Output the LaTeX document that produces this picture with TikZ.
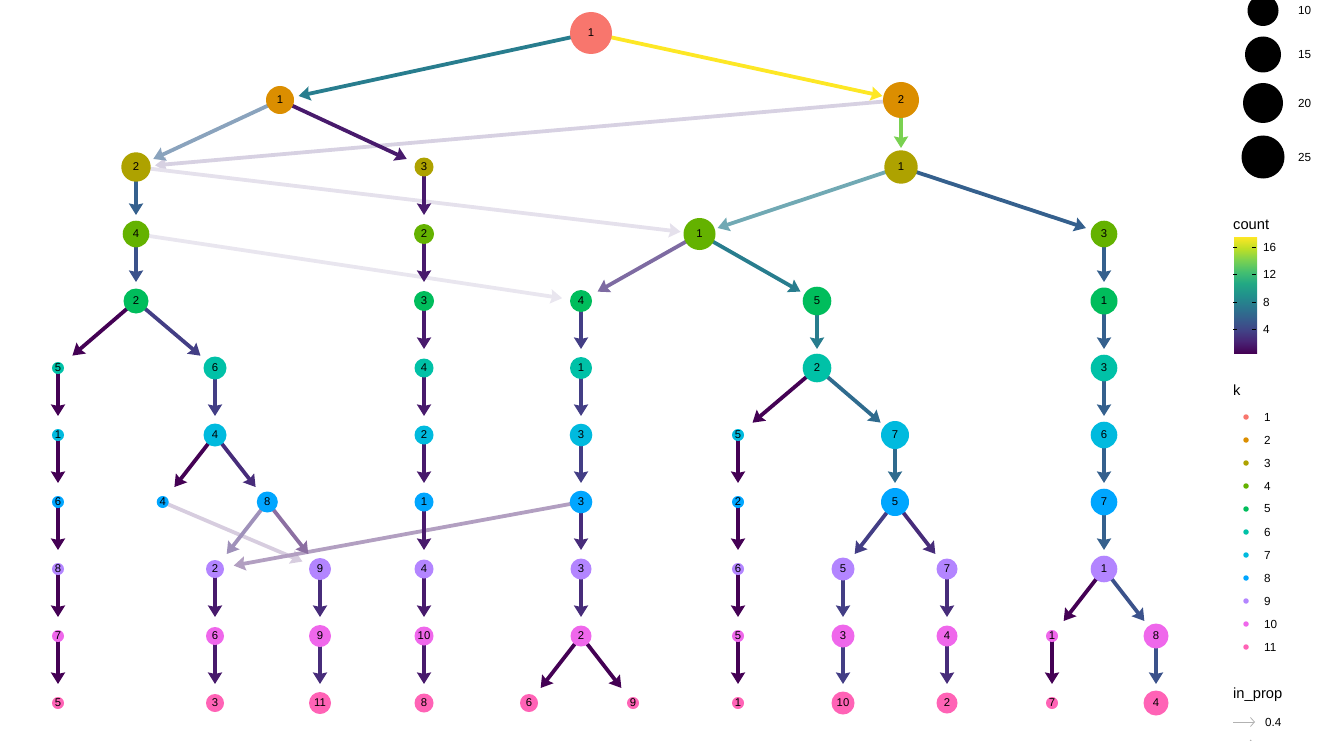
\documentclass[tikz,border=0pt]{standalone}
\usepackage{fontspec}
\setmainfont{Liberation Sans}
\usetikzlibrary{arrows.meta}
\usetikzlibrary{positioning}

% cluster colours by resolution k
\definecolor{hue1}{HTML}{F8766D}
\definecolor{hue2}{HTML}{DB8E00}
\definecolor{hue3}{HTML}{AEA200}
\definecolor{hue4}{HTML}{64B200}
\definecolor{hue5}{HTML}{00BD5C}
\definecolor{hue6}{HTML}{00C1A7}
\definecolor{hue7}{HTML}{00BADE}
\definecolor{hue8}{HTML}{00A6FF}
\definecolor{hue9}{HTML}{B385FF}
\definecolor{hue10}{HTML}{EF67EB}
\definecolor{hue11}{HTML}{FF63B6}
% edge colours by count
\definecolor{vir1}{HTML}{440154}
\definecolor{vir2}{HTML}{481A6C}
\definecolor{vir3}{HTML}{472C7A}
\definecolor{vir4}{HTML}{433E85}
\definecolor{vir5}{HTML}{3B528B}
\definecolor{vir6}{HTML}{35608D}
\definecolor{vir7}{HTML}{2F6B8E}
\definecolor{vir8}{HTML}{287D8E}
\definecolor{vir14}{HTML}{7AD151}
\definecolor{vir17}{HTML}{FDE725}
% colour bar stops
\definecolor{vs0}{HTML}{440154}
\definecolor{vs1}{HTML}{482475}
\definecolor{vs2}{HTML}{414487}
\definecolor{vs3}{HTML}{355F8D}
\definecolor{vs4}{HTML}{2A788E}
\definecolor{vs5}{HTML}{21918C}
\definecolor{vs6}{HTML}{22A884}
\definecolor{vs7}{HTML}{44BF70}
\definecolor{vs8}{HTML}{7AD151}
\definecolor{vs9}{HTML}{BDDF26}
\definecolor{vs10}{HTML}{FDE725}
% tikz fits the middle 50bp of a 100bp shading to the path
\pgfdeclareverticalshading{virbar}{100bp}{color(0bp)=(vs0); color(25bp)=(vs0);
  color(30bp)=(vs1); color(35bp)=(vs2); color(40bp)=(vs3); color(45bp)=(vs4);
  color(50bp)=(vs5); color(55bp)=(vs6); color(60bp)=(vs7); color(65bp)=(vs8);
  color(70bp)=(vs9); color(75bp)=(vs10); color(100bp)=(vs10)}

\pgfdeclarelayer{edges}
\pgfsetlayers{edges,main}

\tikzset{
  cl/.style={circle, inner sep=0pt, text=black, font=\fontsize{11.3}{13}\selectfont},
  rad/.style={minimum size=#1*2pt},
  lnk/.style={draw=#1, line width=3.8pt,
    -{Stealth[length=11.5pt,width=14pt,inset=1.5pt]}, shorten >=19pt},
  leg/.style={inner sep=0pt, anchor=west, font=\fontsize{11.7}{13}\selectfont},
  legtitle/.style={inner sep=0pt, anchor=west, font=\fontsize{14.7}{16}\selectfont},
}

\begin{document}
\begin{tikzpicture}[x=1pt, y=-1pt]
\useasboundingbox (0,0) rectangle (1319,741);

% k = 1
\node[cl, fill=hue1, rad=21] (k1c1) at (591,33) {1};
% k = 2
\node[cl, fill=hue2, rad=14] (k2c1) at (280,100) {1};
\node[cl, fill=hue2, rad=18] (k2c2) at (901,100) {2};
% k = 3
\node[cl, fill=hue3, rad=14.7] (k3c2) at (136,167) {2};
\node[cl, fill=hue3, rad=9.5] (k3c3) at (424,167) {3};
\node[cl, fill=hue3, rad=16.7] (k3c1) at (901,167) {1};
% k = 4
\node[cl, fill=hue4, rad=13.3] (k4c4) at (136,234) {4};
\node[cl, fill=hue4, rad=10] (k4c2) at (424,234) {2};
\node[cl, fill=hue4, rad=16] (k4c1) at (699.5,234) {1};
\node[cl, fill=hue4, rad=13.3] (k4c3) at (1104,234) {3};
% k = 5
\node[cl, fill=hue5, rad=12.5] (k5c2) at (136,301) {2};
\node[cl, fill=hue5, rad=10] (k5c3) at (424,301) {3};
\node[cl, fill=hue5, rad=11] (k5c4) at (581,301) {4};
\node[cl, fill=hue5, rad=14.3] (k5c5) at (817,301) {5};
\node[cl, fill=hue5, rad=13.5] (k5c1) at (1104,301) {1};
% k = 6
\node[cl, fill=hue6, rad=6] (k6c5) at (58,368) {5};
\node[cl, fill=hue6, rad=11.5] (k6c6) at (215,368) {6};
\node[cl, fill=hue6, rad=9.5] (k6c4) at (424,368) {4};
\node[cl, fill=hue6, rad=11] (k6c1) at (581,368) {1};
\node[cl, fill=hue6, rad=14.3] (k6c2) at (817,368) {2};
\node[cl, fill=hue6, rad=13.3] (k6c3) at (1104,368) {3};
% k = 7
\node[cl, fill=hue7, rad=6] (k7c1) at (58,435) {1};
\node[cl, fill=hue7, rad=11.5] (k7c4) at (215,435) {4};
\node[cl, fill=hue7, rad=9.5] (k7c2) at (424,435) {2};
\node[cl, fill=hue7, rad=11.3] (k7c3) at (581,435) {3};
\node[cl, fill=hue7, rad=6] (k7c5) at (738,435) {5};
\node[cl, fill=hue7, rad=14] (k7c7) at (895,435) {7};
\node[cl, fill=hue7, rad=13.3] (k7c6) at (1104,435) {6};
% k = 8
\node[cl, fill=hue8, rad=6] (k8c6) at (58,502) {6};
\node[cl, fill=hue8, rad=6] (k8c4) at (162.7,502) {4};
\node[cl, fill=hue8, rad=10.5] (k8c8) at (267.3,502) {8};
\node[cl, fill=hue8, rad=9.5] (k8c1) at (424,502) {1};
\node[cl, fill=hue8, rad=11.3] (k8c3) at (581,502) {3};
\node[cl, fill=hue8, rad=6] (k8c2) at (738,502) {2};
\node[cl, fill=hue8, rad=14] (k8c5) at (895,502) {5};
\node[cl, fill=hue8, rad=13.3] (k8c7) at (1104,502) {7};
% k = 9
\node[cl, fill=hue9, rad=6] (k9c8) at (58,569) {8};
\node[cl, fill=hue9, rad=9] (k9c2) at (215,569) {2};
\node[cl, fill=hue9, rad=11] (k9c9) at (320,569) {9};
\node[cl, fill=hue9, rad=9.5] (k9c4) at (424,569) {4};
\node[cl, fill=hue9, rad=10.5] (k9c3) at (581,569) {3};
\node[cl, fill=hue9, rad=6] (k9c6) at (738,569) {6};
\node[cl, fill=hue9, rad=11.5] (k9c5) at (843,569) {5};
\node[cl, fill=hue9, rad=10.5] (k9c7) at (947,569) {7};
\node[cl, fill=hue9, rad=13.3] (k9c1) at (1104,569) {1};
% k = 10
\node[cl, fill=hue10, rad=6] (k10c7) at (58,636) {7};
\node[cl, fill=hue10, rad=9] (k10c6) at (215,636) {6};
\node[cl, fill=hue10, rad=11] (k10c9) at (320,636) {9};
\node[cl, fill=hue10, rad=9.5] (k10c10) at (424,636) {10};
\node[cl, fill=hue10, rad=10.5] (k10c2) at (581,636) {2};
\node[cl, fill=hue10, rad=6] (k10c5) at (738,636) {5};
\node[cl, fill=hue10, rad=11.5] (k10c3) at (843,636) {3};
\node[cl, fill=hue10, rad=10.5] (k10c4) at (947,636) {4};
\node[cl, fill=hue10, rad=6] (k10c1) at (1052,636) {1};
\node[cl, fill=hue10, rad=12.5] (k10c8) at (1156,636) {8};
% k = 11
\node[cl, fill=hue11, rad=6] (k11c5) at (58,703) {5};
\node[cl, fill=hue11, rad=9] (k11c3) at (215,703) {3};
\node[cl, fill=hue11, rad=11] (k11c11) at (320,703) {11};
\node[cl, fill=hue11, rad=9.5] (k11c8) at (424,703) {8};
\node[cl, fill=hue11, rad=9] (k11c6) at (529,703) {6};
\node[cl, fill=hue11, rad=6] (k11c9) at (633,703) {9};
\node[cl, fill=hue11, rad=6] (k11c1) at (738,703) {1};
\node[cl, fill=hue11, rad=11.5] (k11c10) at (843,703) {10};
\node[cl, fill=hue11, rad=10.5] (k11c2) at (947,703) {2};
\node[cl, fill=hue11, rad=6] (k11c7) at (1052,703) {7};
\node[cl, fill=hue11, rad=12.5] (k11c4) at (1156,703) {4};

\begin{pgfonlayer}{edges}
% faint edges first
\draw[lnk=vir3!22] (k2c2.center) -- (k3c2.center);
\draw[lnk=vir3!14] (k3c2.center) -- (k4c1.center);
\draw[lnk=vir3!12] (k4c4.center) -- (k5c4.center);
\draw[lnk=vir2!22] (k8c4.center) -- (k9c9.center);
\draw[lnk=vir2!42] (k8c3.center) -- (k9c2.center);
\draw[lnk=vir3!52] (k8c8.center) -- (k9c2.center);
\draw[lnk=vir2!63] (k8c8.center) -- (k9c9.center);
\draw[lnk=vir6!58] (k2c1.center) -- (k3c2.center);
\draw[lnk=vir8!66] (k3c1.center) -- (k4c1.center);
\draw[lnk=vir3!70] (k4c1.center) -- (k5c4.center);
% k1 -> k2 -> k3
\draw[lnk=vir8] (k1c1.center) -- (k2c1.center);
\draw[lnk=vir17] (k1c1.center) -- (k2c2.center);
\draw[lnk=vir2] (k2c1.center) -- (k3c3.center);
\draw[lnk=vir14] (k2c2.center) -- (k3c1.center);
% k3 -> k4 -> k5
\draw[lnk=vir6] (k3c2.center) -- (k4c4.center);
\draw[lnk=vir2] (k3c3.center) -- (k4c2.center);
\draw[lnk=vir6] (k3c1.center) -- (k4c3.center);
\draw[lnk=vir5] (k4c4.center) -- (k5c2.center);
\draw[lnk=vir2] (k4c2.center) -- (k5c3.center);
\draw[lnk=vir8] (k4c1.center) -- (k5c5.center);
\draw[lnk=vir6] (k4c3.center) -- (k5c1.center);
% k5 -> k6
\draw[lnk=vir1] (k5c2.center) -- (k6c5.center);
\draw[lnk=vir4] (k5c2.center) -- (k6c6.center);
\draw[lnk=vir2] (k5c3.center) -- (k6c4.center);
\draw[lnk=vir4] (k5c4.center) -- (k6c1.center);
\draw[lnk=vir8] (k5c5.center) -- (k6c2.center);
\draw[lnk=vir6] (k5c1.center) -- (k6c3.center);
% k6 -> k7
\draw[lnk=vir1] (k6c5.center) -- (k7c1.center);
\draw[lnk=vir4] (k6c6.center) -- (k7c4.center);
\draw[lnk=vir2] (k6c4.center) -- (k7c2.center);
\draw[lnk=vir4] (k6c1.center) -- (k7c3.center);
\draw[lnk=vir1] (k6c2.center) -- (k7c5.center);
\draw[lnk=vir7] (k6c2.center) -- (k7c7.center);
\draw[lnk=vir6] (k6c3.center) -- (k7c6.center);
% k7 -> k8
\draw[lnk=vir1] (k7c1.center) -- (k8c6.center);
\draw[lnk=vir1] (k7c4.center) -- (k8c4.center);
\draw[lnk=vir3] (k7c4.center) -- (k8c8.center);
\draw[lnk=vir2] (k7c2.center) -- (k8c1.center);
\draw[lnk=vir4] (k7c3.center) -- (k8c3.center);
\draw[lnk=vir1] (k7c5.center) -- (k8c2.center);
\draw[lnk=vir7] (k7c7.center) -- (k8c5.center);
\draw[lnk=vir6] (k7c6.center) -- (k8c7.center);
% k8 -> k9
\draw[lnk=vir1] (k8c6.center) -- (k9c8.center);
\draw[lnk=vir2] (k8c1.center) -- (k9c4.center);
\draw[lnk=vir3] (k8c3.center) -- (k9c3.center);
\draw[lnk=vir1] (k8c2.center) -- (k9c6.center);
\draw[lnk=vir4] (k8c5.center) -- (k9c5.center);
\draw[lnk=vir3] (k8c5.center) -- (k9c7.center);
\draw[lnk=vir6] (k8c7.center) -- (k9c1.center);
% k9 -> k10
\draw[lnk=vir1] (k9c8.center) -- (k10c7.center);
\draw[lnk=vir2] (k9c2.center) -- (k10c6.center);
\draw[lnk=vir3] (k9c9.center) -- (k10c9.center);
\draw[lnk=vir2] (k9c4.center) -- (k10c10.center);
\draw[lnk=vir3] (k9c3.center) -- (k10c2.center);
\draw[lnk=vir1] (k9c6.center) -- (k10c5.center);
\draw[lnk=vir4] (k9c5.center) -- (k10c3.center);
\draw[lnk=vir3] (k9c7.center) -- (k10c4.center);
\draw[lnk=vir1] (k9c1.center) -- (k10c1.center);
\draw[lnk=vir5] (k9c1.center) -- (k10c8.center);
% k10 -> k11
\draw[lnk=vir1] (k10c7.center) -- (k11c5.center);
\draw[lnk=vir2] (k10c6.center) -- (k11c3.center);
\draw[lnk=vir3] (k10c9.center) -- (k11c11.center);
\draw[lnk=vir2] (k10c10.center) -- (k11c8.center);
\draw[lnk=vir1] (k10c2.center) -- (k11c6.center);
\draw[lnk=vir1] (k10c2.center) -- (k11c9.center);
\draw[lnk=vir1] (k10c5.center) -- (k11c1.center);
\draw[lnk=vir4] (k10c3.center) -- (k11c10.center);
\draw[lnk=vir3] (k10c4.center) -- (k11c2.center);
\draw[lnk=vir1] (k10c1.center) -- (k11c7.center);
\draw[lnk=vir5] (k10c8.center) -- (k11c4.center);
\end{pgfonlayer}

% legend: size
\foreach \v/\y/\r in {10/10.5/15.5, 15/54.5/18, 20/103/20, 25/157/21.5}
  \node[circle, fill=black, inner sep=0pt, minimum size=\r*2pt] (sz\v) at (1263,\y) {};
\foreach \v in {10,15,20,25}
  \node[leg] at (1298,0 |- sz\v) {\v};

% legend: count
\node[legtitle] (ttl_count) at (1233,224.5) {count};
\shade[shading=virbar] (1234,237) rectangle (1257,353);
\foreach \v/\y in {16/247, 12/274, 8/302, 4/329.5} {
  \draw[line width=0.9pt] (1233,\y) -- ++(4,0);
  \draw[line width=0.9pt] (1252,\y) -- ++(4,0);
  \node[leg] at (1263,\y) {\v};
}

% legend: k
\node[legtitle] (ttl_k) at (1233,390) {k};
\foreach \i in {1,...,11} {
  \pgfmathsetmacro{\yk}{417+23*(\i-1)}
  \node[circle, fill=hue\i, inner sep=0pt, minimum size=5.5pt] (kd\i) at (1246,\yk) {};
  \node[leg, right=18pt of kd\i.center] {\i};
}

% legend: in_prop
\node[legtitle] (ttl_prop) at (1233,695) {in\_prop};
\coordinate (pa1) at (1233,722);
\coordinate (pb1) at (1255,722);
\draw[gray!60, line width=0.8pt, -{Straight Barb[length=4pt,width=9pt]}] (pa1) -- (pb1);
\node[leg, right=10pt of pb1] {0.4};
\coordinate (pa2) at (1233,746);
\coordinate (pb2) at (1255,746);
\draw[gray!60, line width=1.2pt, -{Straight Barb[length=4pt,width=12pt]}] (pa2) -- (pb2);
\end{tikzpicture}
\end{document}
